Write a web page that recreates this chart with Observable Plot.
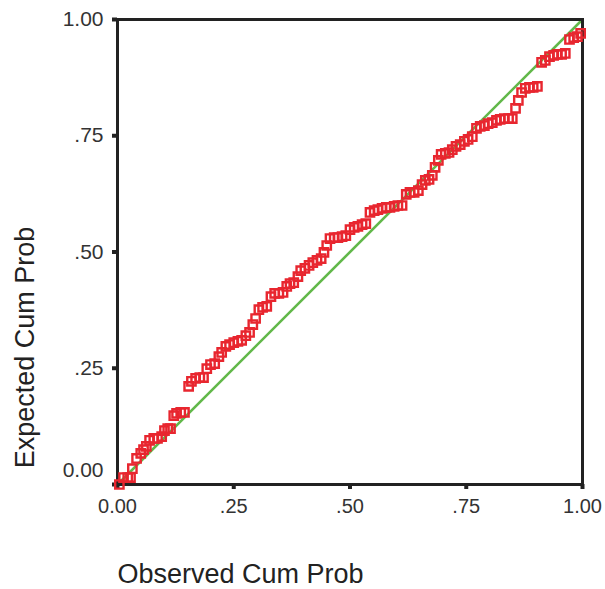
<!DOCTYPE html>
<html>
<head>
<meta charset="utf-8">
<script src="https://cdn.jsdelivr.net/npm/d3@7"></script>
<script src="https://cdn.jsdelivr.net/npm/@observablehq/plot@0.6"></script>
<style>
  html, body { margin: 0; padding: 0; background: #fff; }
  #chart svg { display: block; }
</style>
</head>
<body>
<div id="chart"></div>
<script>
// Observed cumulative probability (x)
const observedCumProb = [
  0.004, 0.013, 0.022, 0.028, 0.032, 0.041, 0.050, 0.056, 0.062, 0.069,
  0.078, 0.086, 0.095, 0.101, 0.108, 0.114, 0.121, 0.127, 0.136, 0.144,
  0.153, 0.159, 0.168, 0.177, 0.185, 0.192, 0.200, 0.209, 0.218, 0.224,
  0.233, 0.241, 0.250, 0.259, 0.267, 0.276, 0.284, 0.291, 0.297, 0.304,
  0.312, 0.321, 0.330, 0.338, 0.347, 0.356, 0.364, 0.371, 0.379, 0.388,
  0.394, 0.403, 0.412, 0.420, 0.429, 0.438, 0.444, 0.450, 0.457, 0.466,
  0.474, 0.483, 0.491, 0.500, 0.509, 0.517, 0.526, 0.534, 0.543, 0.552,
  0.560, 0.569, 0.578, 0.586, 0.595, 0.603, 0.612, 0.621, 0.629, 0.638,
  0.647, 0.655, 0.662, 0.670, 0.677, 0.683, 0.690, 0.696, 0.705, 0.713,
  0.720, 0.728, 0.737, 0.746, 0.754, 0.763, 0.772, 0.780, 0.789, 0.797,
  0.806, 0.815, 0.823, 0.832, 0.841, 0.849, 0.856, 0.862, 0.869, 0.877,
  0.886, 0.894, 0.903, 0.912, 0.920, 0.929, 0.938, 0.946, 0.955, 0.963,
  0.972, 0.981, 0.989, 0.996
];
// Expected cumulative probability (y)
const expectedCumProb = [
  0.000, 0.015, 0.015, 0.015, 0.034, 0.056, 0.067, 0.075, 0.082, 0.095,
  0.099, 0.099, 0.103, 0.116, 0.120, 0.120, 0.148, 0.153, 0.155, 0.155,
  0.211, 0.222, 0.228, 0.230, 0.230, 0.249, 0.258, 0.260, 0.275, 0.284,
  0.297, 0.301, 0.305, 0.308, 0.310, 0.320, 0.327, 0.344, 0.357, 0.376,
  0.381, 0.383, 0.404, 0.411, 0.411, 0.413, 0.426, 0.432, 0.434, 0.447,
  0.460, 0.465, 0.471, 0.477, 0.482, 0.486, 0.499, 0.514, 0.529, 0.531,
  0.531, 0.533, 0.535, 0.548, 0.553, 0.555, 0.559, 0.561, 0.585, 0.589,
  0.591, 0.594, 0.596, 0.596, 0.598, 0.600, 0.600, 0.624, 0.628, 0.628,
  0.632, 0.645, 0.654, 0.656, 0.665, 0.682, 0.697, 0.710, 0.712, 0.714,
  0.720, 0.727, 0.731, 0.738, 0.742, 0.748, 0.766, 0.770, 0.772, 0.776,
  0.778, 0.783, 0.785, 0.787, 0.787, 0.787, 0.809, 0.826, 0.843, 0.852,
  0.854, 0.854, 0.856, 0.908, 0.912, 0.920, 0.923, 0.925, 0.925, 0.927,
  0.957, 0.961, 0.963, 0.970
];
// Reference (expected = observed) line endpoints
const referenceLine = [0, 1];
// Tick values and their labels
const tickValues = [0, 0.25, 0.5, 0.75, 1];
const tickLabels = ["0.00", ".25", ".50", ".75", "1.00"];
const xTitle = "Observed Cum Prob";
const yTitle = "Expected Cum Prob";

const points = observedCumProb.map((x, i) => ({x, y: expectedCumProb[i]}));
const ref = referenceLine.map(v => ({x: v, y: v}));
const fmt = d => tickLabels[tickValues.indexOf(d)];
const fmtNoZero = d => d === tickValues[0] ? "" : fmt(d);

const chart = Plot.plot({
  width: 605,
  height: 589,
  marginLeft: 117,
  marginRight: 23,
  marginTop: 19,
  marginBottom: 105,
  style: {fontFamily: "Liberation Sans, Arial, sans-serif", background: "#fff", color: "#222"},
  x: {domain: [0, 1]},
  y: {domain: [0, 1]},
  marks: [
    Plot.axisX({ticks: tickValues, tickFormat: fmt, tickSize: 5, tickPadding: 9,
      strokeWidth: 4, stroke: "#222", fontSize: 20, fill: "#333", label: null}),
    Plot.axisY({ticks: tickValues, tickFormat: fmtNoZero, tickSize: 5, tickPadding: 9,
      strokeWidth: 4, stroke: "#222", fontSize: 21, fill: "#333", label: null}),
    Plot.axisY({ticks: [tickValues[0]], tickFormat: fmt, tickSize: 0, tickPadding: 14, dy: -14,
      fontSize: 21, fill: "#333", label: null}),
    Plot.line(ref, {x: "x", y: "y", stroke: "#62b84a", strokeWidth: 2.6}),
    Plot.frame({stroke: "#222", strokeWidth: 3}),
    Plot.dot(points, {x: "x", y: "y", symbol: "square", r: 4.7, stroke: "#e8262f", strokeWidth: 2.4, fill: "none"}),
    Plot.text([xTitle], {frameAnchor: "bottom-left", text: d => d, dy: 90, lineAnchor: "middle",
      textAnchor: "start", fontSize: 27, fill: "#222"}),
    Plot.text([yTitle], {frameAnchor: "left", text: d => d, dx: -92, dy: 95.5, rotate: -90,
      lineAnchor: "middle", textAnchor: "middle", fontSize: 27, fill: "#222"})
  ]
});
document.getElementById("chart").appendChild(chart);
</script>
</body>
</html>
